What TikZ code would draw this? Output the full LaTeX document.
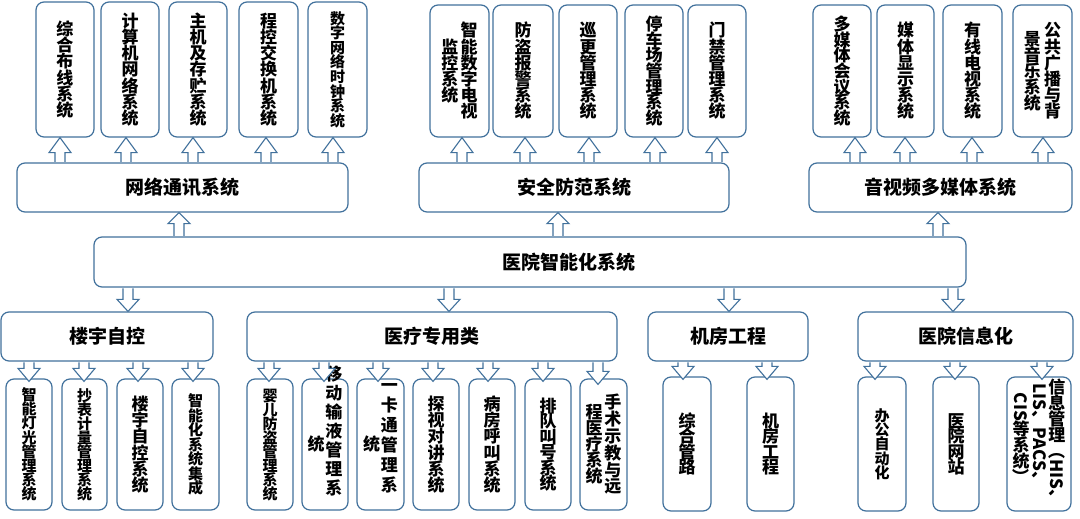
\documentclass[tikz,border=0pt]{standalone}
\usepackage{fontspec}
\setmainfont{Noto Sans CJK SC}
\usepackage{graphicx}
\usetikzlibrary{calc}
\definecolor{bc}{RGB}{65,113,156}
\makeatletter
\newbox\vcb
% vertical column: [shift up]{pitch}{items}
\newcommand\vc[3][0]{%
 \setbox\vcb=\vbox{\baselineskip=0pt\lineskiplimit=0pt\lineskip=\dimexpr#2pt-1em\relax
   \@tfor\vch:=#3\do{\hbox to 1.05em{\hss\vrule height .88em depth .12em width 0pt\vch\hss}}}%
 \dimen0=\dimexpr(\ht\vcb+\dp\vcb)/2\relax
 \setbox\vcb=\hbox{\lower\dimexpr\dimen0-\dp\vcb-#1pt\relax\box\vcb}%
 \ht\vcb=0pt \dp\vcb=0pt \box\vcb}
\makeatother
\newcommand\rotv[1]{\raisebox{.88em}{\rotatebox{-90}{#1}}}
\newcommand\sm{\fontsize{15pt}{15pt}\selectfont}
\def\sw{5pt}
\def\hw{11pt}
% up arrow: x, lower node, upper node, head length
\newcommand\arrup[4]{%
 \filldraw[blk] let \p1=(#2.north), \p2=(#3.south) in
  ({#1pt-\sw},{\y1+0.65pt}) -- ({#1pt-\sw},{\y2-#4pt}) -- ({#1pt-\hw},{\y2-#4pt}) -- (#1pt,\y2)
  -- ({#1pt+\hw},{\y2-#4pt}) -- ({#1pt+\sw},{\y2-#4pt}) -- ({#1pt+\sw},{\y1+0.65pt});}
% down arrow: x, upper node, lower node, head length, overshoot
\newcommand\arrdown[5]{%
 \filldraw[blk] let \p1=(#2.south), \p2=(#3.north) in
  ({#1pt-\sw},{\y1-0.65pt}) -- ({#1pt-\sw},{\y2+#4pt-#5pt}) -- ({#1pt-\hw},{\y2+#4pt-#5pt}) -- (#1pt,{\y2-#5pt})
  -- ({#1pt+\hw},{\y2+#4pt-#5pt}) -- ({#1pt+\sw},{\y2+#4pt-#5pt}) -- ({#1pt+\sw},{\y1-0.65pt});}
\begin{document}
\begin{tikzpicture}[x=1pt,y=-1pt,
 bx/.style={draw=bc,line width=1.2pt,rounded corners=8pt,fill=white,inner sep=0pt},
 vt/.style={bx,font=\bfseries\fontsize{17pt}{17pt}\selectfont},
 hd/.style={bx,font=\bfseries\fontsize{19pt}{19pt}\selectfont,minimum height=49pt},
 blk/.style={draw=bc,line width=1.1pt,fill=white,line join=miter}]
\fill[white] (0,0) rectangle (1080,519);
\useasboundingbox (0,0) rectangle (1080,519);

% top row
\node[vt,minimum width=58pt,minimum height=135pt] (t1) at (65,69.5) {\vc{16.2}{综合布线系统}};
\node[vt,minimum width=58pt,minimum height=135pt] (t2) at (130,69.5) {\vc{16.2}{计算机网络系统}};
\node[vt,minimum width=58pt,minimum height=135pt] (t3) at (198,69.5) {\vc{16.2}{主机及存贮系统}};
\node[vt,minimum width=59pt,minimum height=135pt] (t4) at (268.5,69.5) {\vc{16.2}{程控交换机系统}};
\node[vt,minimum width=59pt,minimum height=135pt] (t5) at (337.5,69.5) {\sm\vc{14.6}{数字网络时钟系统}};
\node[vt,minimum width=59pt,minimum height=132pt] (t6) at (459.5,71) {\vc{16.2}{监控系统}\hspace{1.5pt}\vc{16.2}{智能数字电视}};
\node[vt,minimum width=60pt,minimum height=132pt] (t7) at (523,71) {\vc{16.2}{防盗报警系统}};
\node[vt,minimum width=58pt,minimum height=132pt] (t8) at (588,71) {\vc{16.2}{巡更管理系统}};
\node[vt,minimum width=58pt,minimum height=132pt] (t9) at (654,71) {\vc{15.7}{停车场管理系统}};
\node[vt,minimum width=58pt,minimum height=132pt] (t10) at (717,71) {\vc{16.2}{门禁管理系统}};
\node[vt,minimum width=58pt,minimum height=132pt] (t11) at (842,71) {\vc{15.7}{多媒体会议系统}};
\node[vt,minimum width=57pt,minimum height=132pt] (t12) at (905.5,71) {\vc{16.2}{媒体显示系统}};
\node[vt,minimum width=59pt,minimum height=132pt] (t13) at (972.5,71) {\vc{16.2}{有线电视系统}};
\node[vt,minimum width=59pt,minimum height=132pt] (t14) at (1042.5,71) {\vc{16.2}{景音乐系统}\hspace{2.5pt}\vc{16.2}{公共广播与背}};

% middle row
\node[hd,minimum width=331pt] (m1) at (182.5,187.5) {网络通讯系统};
\node[hd,minimum width=310pt] (m2) at (574,187.5) {安全防范系统};
\node[hd,minimum width=263pt] (m3) at (940.5,187.5) {音视频多媒体系统};

% central
\node[bx,minimum width=872pt,minimum height=50pt] (c) at (530,262) {};
\node[font=\bfseries\fontsize{19pt}{19pt}\selectfont,inner sep=0pt] (ct) at (569,262) {医院智能化系统};

% second level
\node[hd,minimum width=212pt] (l1) at (107,336.5) {楼宇自控};
\node[hd,minimum width=370pt] (l2) at (432,336.5) {医疗专用类};
\node[hd,minimum width=160pt] (l3) at (728,336.5) {机房工程};
\node[hd,minimum width=215pt] (l4) at (965.5,336.5) {医院信息化};

% bottom row
\node[vt,minimum width=46pt,minimum height=131pt] (b1) at (29,444.5) {\sm\vc{14.2}{智能灯光管理系统}};
\node[vt,minimum width=45pt,minimum height=131pt] (b2) at (84.5,444.5) {\sm\vc{14}{抄表计量管理系统}};
\node[vt,minimum width=46pt,minimum height=131pt] (b3) at (140,444.5) {\vc{16.2}{楼宇自控系统}};
\node[vt,minimum width=47pt,minimum height=131pt] (b4) at (195.5,444.5) {\sm\vc{14.5}{智能化系统集成}};
\node[vt,minimum width=46pt,minimum height=131pt] (b5) at (270,444.5) {\sm\vc{14}{婴儿防盗管理系统}};
\node[vt,minimum width=46pt,minimum height=131pt] (b6) at (325,444.5) {\vc{16}{统}\vc[13]{19}{移动输液管理系}};
\node[vt,minimum width=47pt,minimum height=131pt] (b7) at (380.5,444.5) {\vc{16}{统}\vc[9]{20}{一卡通管理系}};
\node[vt,minimum width=46pt,minimum height=131pt] (b8) at (436,444.5) {\vc{16.2}{探视对讲系统}};
\node[vt,minimum width=46pt,minimum height=131pt] (b9) at (492,444.5) {\vc{16.2}{病房呼叫系统}};
\node[vt,minimum width=46pt,minimum height=131pt] (b10) at (548,444.5) {\vc{15.5}{排队叫号系统}};
\node[vt,minimum width=47pt,minimum height=131pt] (b11) at (603.5,444.5) {\vc{16}{程医疗系统}\hspace{1pt}\vc{16.8}{手术示教与远}};
\node[vt,minimum width=48pt,minimum height=134pt] (b12) at (687,444) {\vc{15.5}{综合管路}};
\node[vt,minimum width=47pt,minimum height=134pt] (b13) at (770.5,444) {\vc{15.5}{机房工程}};
\node[vt,minimum width=48pt,minimum height=134pt] (b14) at (882,444) {\sm\vc{14.3}{办公自动化}};
\node[vt,minimum width=46pt,minimum height=134pt] (b15) at (956,444) {\vc{15.5}{医院网站}};
\node[vt,minimum width=64pt,minimum height=134pt] (b16) at (1039,444) {\vc[5]{16}{{\rotv{CIS}}等系统{\rotv{）}}}\vc[8]{16}{{\rotv{LIS、PACS、}}}\vc[1.5]{16}{信息管理{\rotv{（HIS、}}}};

% arrows top
\arrup{60}{m1}{t1}{15}
\arrup{126}{m1}{t2}{15}
\arrup{193}{m1}{t3}{15}
\arrup{266}{m1}{t4}{15}
\arrup{333}{m1}{t5}{15}
\arrup{462}{m2}{t6}{15}
\arrup{525}{m2}{t7}{15}
\arrup{589}{m2}{t8}{15}
\arrup{655}{m2}{t9}{15}
\arrup{717}{m2}{t10}{15}
\arrup{855}{m3}{t11}{15}
\arrup{905}{m3}{t12}{15}
\arrup{972}{m3}{t13}{15}
\arrup{1043}{m3}{t14}{15}
% central arrows
\arrup{179}{c}{m1}{11}
\arrup{558}{c}{m2}{11}
\arrup{938}{c}{m3}{11}
\arrdown{128}{c}{l1}{12}{0}
\arrdown{449}{c}{l2}{12}{0}
\arrdown{729}{c}{l3}{12}{0}
\arrdown{953}{c}{l4}{12}{0}
% bottom arrows
\arrdown{29}{l1}{b1}{13}{3}
\arrdown{84}{l1}{b2}{13}{3}
\arrdown{138}{l1}{b3}{13}{3}
\arrdown{193}{l1}{b4}{13}{3}
\arrdown{269}{l2}{b5}{13}{3}
\arrdown{324}{l2}{b6}{13}{3}
\arrdown{378}{l2}{b7}{13}{3}
\arrdown{433}{l2}{b8}{13}{3}
\arrdown{488}{l2}{b9}{13}{3}
\arrdown{543}{l2}{b10}{13}{3}
\arrdown{598}{l2}{b11}{13}{6}
\arrdown{683}{l3}{b12}{13}{3}
\arrdown{767}{l3}{b13}{13}{3}
\arrdown{875}{l4}{b14}{13}{3}
\arrdown{955}{l4}{b15}{13}{3}
\arrdown{1042}{l4}{b16}{13}{3}
\end{tikzpicture}
\end{document}
